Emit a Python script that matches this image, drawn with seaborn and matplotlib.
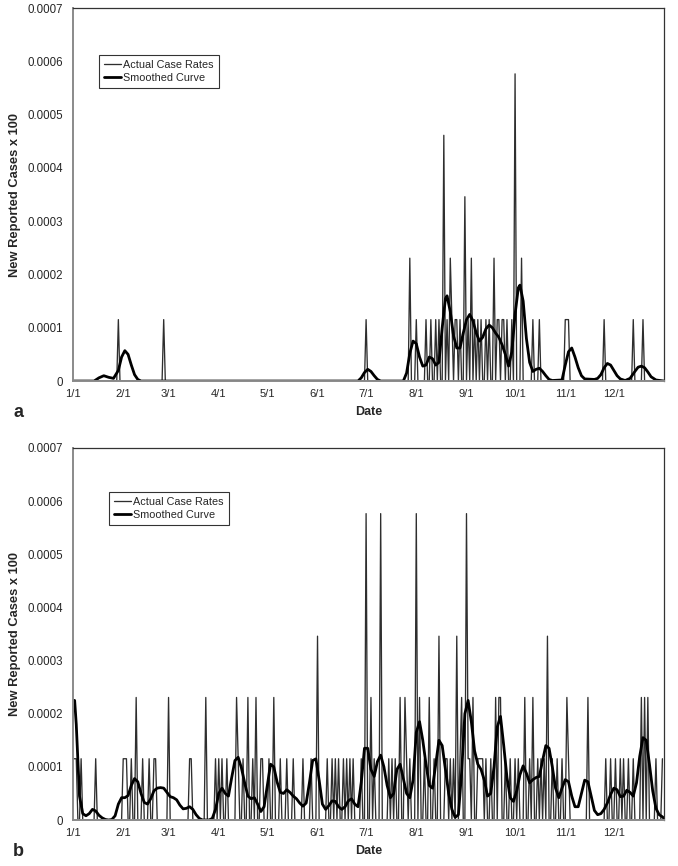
import numpy as np
import pandas as pd
import seaborn as sns
import matplotlib.pyplot as plt

# one reported case corresponds to this rate (x 100)
RATE_PER_CASE = 0.0001153
N_DAYS = 365

month_ticks = [0, 31, 59, 90, 120, 151, 181, 212, 243, 273, 304, 334]
month_labels = ["1/1", "2/1", "3/1", "4/1", "5/1", "6/1", "7/1", "8/1", "9/1", "10/1", "11/1", "12/1"]

# panel a: day of year (0 = Jan 1) with reported cases, and number of cases
days_a = [28, 56, 181, 208, 212, 218, 221, 224, 226, 229, 231, 233, 234, 236, 237, 239,
          242, 244, 246, 248, 250, 252, 255, 257, 260, 262, 263, 265, 266, 268, 271, 273,
          277, 284, 288, 304, 305, 306, 328, 346, 352]
counts_a = [1, 1, 1, 2, 1, 1, 1, 1, 1, 4, 1, 2, 1, 1, 1, 1,
            3, 1, 2, 1, 1, 1, 1, 1, 2, 1, 1, 1, 1, 1, 1, 5,
            2, 1, 1, 1, 1, 1, 1, 1, 1]

# panel a smoothed curve, read at points along the curve (values x 1e-4)
smooth_days_a = [0, 13, 16, 19, 22, 25, 28, 30, 32, 34, 36, 38, 40, 42,
                 176, 178, 180, 182, 184, 186, 188, 190,
                 204, 206, 208, 210, 212, 214, 216, 218, 220, 222, 224, 226, 228, 230, 231, 233,
                 235, 237, 239, 241, 243, 245, 247, 249, 251, 253, 255, 257, 259, 261, 263, 265,
                 267, 269, 271, 273, 275, 276, 278, 280, 282, 284, 286, 288, 290, 292, 294, 296,
                 302, 304, 306, 308, 310, 312, 314, 316, 322, 324, 326, 328, 330, 332, 334, 336,
                 338, 341, 344, 347, 349, 351, 353, 355, 357, 360, 365]
smooth_vals_a = [0, 0, 0.06, 0.10, 0.07, 0.05, 0.2, 0.45, 0.57, 0.5, 0.3, 0.12, 0.03, 0,
                 0, 0.06, 0.16, 0.22, 0.18, 0.1, 0.03, 0,
                 0, 0.15, 0.52, 0.75, 0.7, 0.45, 0.28, 0.3, 0.45, 0.42, 0.3, 0.35, 1.0, 1.55, 1.6, 1.3,
                 0.85, 0.62, 0.62, 0.9, 1.15, 1.25, 1.13, 0.9, 0.75, 0.82, 0.98, 1.05, 1.0, 0.9, 0.82, 0.68,
                 0.5, 0.28, 0.55, 1.25, 1.75, 1.8, 1.5, 0.8, 0.35, 0.18, 0.22, 0.24, 0.18, 0.1, 0.03, 0.01,
                 0.02, 0.3, 0.55, 0.62, 0.45, 0.25, 0.1, 0.04, 0.03, 0.05, 0.12, 0.25, 0.33, 0.3, 0.2, 0.1,
                 0.04, 0.01, 0.05, 0.18, 0.26, 0.28, 0.25, 0.17, 0.08, 0.02, 0]

# panel b: day of year with reported cases, and number of cases
days_b = [0, 1, 2, 5, 14, 31, 32, 33, 36, 39, 43, 47, 50, 51, 59, 72, 73, 82, 88, 90,
          92, 95, 101, 102, 105, 108, 111, 113, 116, 117, 121, 124, 128, 132, 136, 142, 147, 151,
          157, 160, 162, 164, 167, 169, 171, 173, 178,
          181, 184, 186, 190, 195, 197, 199, 202, 205, 206, 208, 212, 214, 217, 220, 223, 226,
          230, 231, 233, 235, 237, 239, 240, 243, 244, 245, 247, 250, 251, 252, 253, 255, 258,
          261, 263, 264, 267, 270, 273, 275, 279, 282, 284, 287, 289, 291, 293, 296, 299, 302,
          305, 306, 318, 329, 332, 335, 338, 340, 343, 346, 351, 353, 355, 360, 364]
counts_b = [1, 1, 1, 1, 1, 1, 1, 1, 1, 2, 1, 1, 1, 1, 2, 1, 1, 2, 1, 1,
            1, 1, 2, 1, 1, 2, 1, 2, 1, 1, 1, 2, 1, 1, 1, 1, 1, 3,
            1, 1, 1, 1, 1, 1, 1, 1, 1,
            5, 2, 1, 5, 1, 1, 1, 2, 2, 1, 1, 5, 2, 1, 2, 1, 3,
            1, 1, 1, 1, 3, 1, 2, 5, 1, 1, 2, 1, 1, 1, 1, 1, 1,
            2, 2, 2, 1, 1, 1, 1, 2, 1, 2, 1, 1, 1, 3, 1, 1, 1,
            2, 1, 2, 1, 1, 1, 1, 1, 1, 1, 2, 2, 2, 1, 1]

# panel b smoothed curve, read every two days (values x 1e-4)
smooth_days_b = [0, 1] + list(range(2, 365, 2)) + [365]
smooth_vals_b = [2.25, 2.25,
                 1.8, 0.45, 0.12, 0.08, 0.12, 0.2, 0.17, 0.09, 0.04, 0.01, 0.0, 0.01, 0.08, 0.3,
                 0.42, 0.42, 0.46, 0.65, 0.78, 0.72, 0.5, 0.33, 0.3, 0.4, 0.55, 0.6, 0.61, 0.6,
                 0.52, 0.44, 0.42, 0.38, 0.28, 0.21, 0.22, 0.25, 0.2, 0.1, 0.03, 0.0, 0.0, 0.0,
                 0.03, 0.2, 0.5, 0.6, 0.5, 0.45, 0.8, 1.12, 1.18, 0.98, 0.7, 0.45, 0.4, 0.42,
                 0.3, 0.16, 0.25, 0.65, 1.05, 1.0, 0.72, 0.52, 0.5, 0.57, 0.52, 0.45, 0.4, 0.32,
                 0.26, 0.32, 0.7, 1.12, 1.15, 0.75, 0.3, 0.2, 0.27, 0.36, 0.35, 0.25, 0.2, 0.25,
                 0.36, 0.4, 0.3, 0.25, 0.7, 1.35, 1.35, 0.95, 0.82, 1.1, 1.22, 1.0, 0.65, 0.42,
                 0.5, 0.95, 1.05, 0.78, 0.5, 0.42, 0.75, 1.65, 1.85, 1.5, 1.05, 0.65, 0.6, 1.05,
                 1.5, 1.4, 0.95, 0.5, 0.2, 0.05, 0.1, 0.9, 2.0, 2.25, 1.85, 1.3, 1.05, 0.95,
                 0.75, 0.45, 0.5, 1.0, 1.75, 1.95, 1.4, 0.8, 0.42, 0.35, 0.55, 0.85, 1.02, 0.88,
                 0.7, 0.76, 0.8, 0.82, 1.12, 1.4, 1.35, 1.0, 0.6, 0.42, 0.6, 0.76, 0.72, 0.45,
                 0.25, 0.25, 0.5, 0.75, 0.72, 0.45, 0.18, 0.1, 0.12, 0.2, 0.32, 0.48, 0.6, 0.57,
                 0.44, 0.45, 0.56, 0.52, 0.45, 0.7, 1.2, 1.55, 1.5, 1.05, 0.55, 0.22, 0.1, 0.06,
                 0.03]

sns.set_style("white")
plt.rcParams["font.family"] = ["Liberation Sans", "DejaVu Sans"]


def draw_panel(ax, days, counts, s_days, s_vals, letter, legend_anchor):
    daily = np.zeros(N_DAYS)
    daily[np.array(days)] = np.array(counts) * RATE_PER_CASE
    actual = pd.DataFrame({"day": np.arange(N_DAYS), "rate": daily})
    smooth = pd.DataFrame({"day": s_days, "rate": np.array(s_vals) * 1e-4})

    sns.lineplot(data=actual, x="day", y="rate", ax=ax, color="#2e2e2e", linewidth=0.95,
                 label="Actual Case Rates", estimator=None, sort=False)
    sns.lineplot(data=smooth, x="day", y="rate", ax=ax, color="black", linewidth=2.0,
                 label="Smoothed Curve", estimator=None, sort=False,
                 solid_joinstyle="round", solid_capstyle="round")

    ax.set_xlim(0, N_DAYS)
    ax.set_ylim(0, 0.0007)
    ax.set_xticks(month_ticks)
    ax.set_xticklabels(month_labels, fontsize=8)
    yt = np.arange(0, 0.00071, 0.0001)
    ax.set_yticks(yt)
    ax.set_yticklabels(["0" if v == 0 else f"{v:.4f}" for v in yt], fontsize=8.3)
    ax.tick_params(axis="both", direction="out", length=3, width=0.8, color="#555555")
    ax.tick_params(axis="y", pad=4)
    ax.tick_params(axis="x", pad=3)
    ax.set_xlabel("Date", fontsize=9, fontweight="bold", labelpad=5)
    ax.set_ylabel("New Reported Cases x 100", fontsize=9.3, fontweight="bold", labelpad=5)

    for side in ["left", "bottom"]:
        ax.spines[side].set_color("#8a8a8a")
        ax.spines[side].set_linewidth(1.4)
    for side in ["top", "right"]:
        ax.spines[side].set_color("#333333")
        ax.spines[side].set_linewidth(0.9)

    leg = ax.legend(loc="upper left", bbox_to_anchor=legend_anchor, fontsize=7.8,
                    frameon=True, fancybox=False, handlelength=1.6, handletextpad=0.2,
                    borderpad=0.45, labelspacing=0.3, borderaxespad=0)
    leg.get_frame().set_edgecolor("black")
    leg.get_frame().set_linewidth(0.8)

    ax.figure.text(0.027, ax.get_position().y0 - 0.036, letter, fontsize=13,
                   fontweight="bold", ha="center", va="center")


fig = plt.figure(figsize=(6.78, 8.66), dpi=100)
ax_a = fig.add_axes([0.1077, 0.560, 0.8717, 0.4307])
ax_b = fig.add_axes([0.1077, 0.0531, 0.8717, 0.4296])

draw_panel(ax_a, days_a, counts_a, smooth_days_a, smooth_vals_a, "a", (0.044, 0.874))
draw_panel(ax_b, days_b, counts_b, smooth_days_b, smooth_vals_b, "b", (0.061, 0.882))

fig.savefig("out.png", dpi=100)
